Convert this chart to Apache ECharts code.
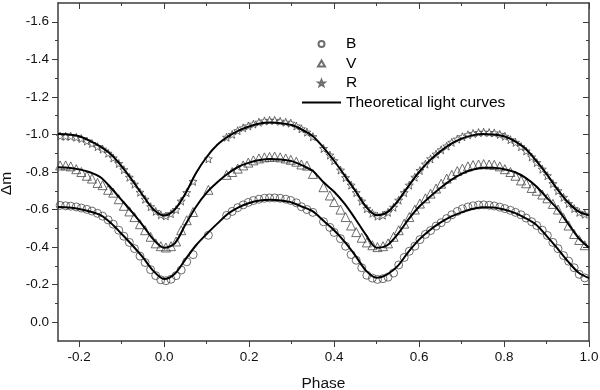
<!DOCTYPE html>
<html><head><meta charset="utf-8">
<script src="https://cdn.jsdelivr.net/npm/echarts@6/dist/echarts.min.js"></script>
<style>html,body{margin:0;padding:0;background:#fff}#c{width:600px;height:390px}</style>
</head><body><div id="c"></div>
<script>
const xMajorTicks = [-0.2, 0.0, 0.2, 0.4, 0.6, 0.8, 1.0];
const xMinorTicks = [-0.1, 0.1, 0.3, 0.5, 0.7, 0.9];
const yMajorTicks = [-1.6, -1.4, -1.2, -1.0, -0.8, -0.6, -0.4, -0.2, 0.0];
const yMinorTicks = [-1.5, -1.3, -1.1, -0.9, -0.7, -0.5, -0.3, -0.1];

const curvePhase = [-0.25,-0.225,-0.2,-0.175,-0.15,-0.125,-0.1,-0.075,-0.05,-0.025,0,0.025,0.05,0.075,0.1,0.125,0.15,0.175,0.2,0.225,0.25,0.275,0.3,0.325,0.35,0.375,0.4,0.425,0.45,0.475,0.5,0.525,0.55,0.575,0.6,0.625,0.65,0.675,0.7,0.725,0.75,0.775,0.8,0.825,0.85,0.875,0.9,0.925,0.95,0.975,1.0];
const curveB = [-0.613,-0.611,-0.603,-0.590,-0.570,-0.527,-0.470,-0.410,-0.345,-0.272,-0.230,-0.258,-0.335,-0.410,-0.470,-0.525,-0.578,-0.612,-0.635,-0.648,-0.652,-0.648,-0.638,-0.615,-0.590,-0.540,-0.490,-0.428,-0.355,-0.275,-0.237,-0.255,-0.300,-0.375,-0.440,-0.490,-0.530,-0.562,-0.585,-0.603,-0.612,-0.611,-0.600,-0.582,-0.555,-0.520,-0.460,-0.395,-0.325,-0.265,-0.235];
const curveV = [-0.825,-0.823,-0.814,-0.799,-0.772,-0.715,-0.650,-0.585,-0.515,-0.440,-0.396,-0.420,-0.520,-0.615,-0.690,-0.745,-0.792,-0.828,-0.850,-0.864,-0.869,-0.866,-0.858,-0.835,-0.805,-0.745,-0.695,-0.630,-0.550,-0.465,-0.397,-0.410,-0.470,-0.548,-0.615,-0.667,-0.715,-0.757,-0.790,-0.812,-0.823,-0.823,-0.815,-0.800,-0.770,-0.725,-0.665,-0.605,-0.528,-0.450,-0.397];
const curveR = [-1.002,-1.000,-0.990,-0.966,-0.935,-0.893,-0.830,-0.755,-0.675,-0.600,-0.568,-0.600,-0.685,-0.795,-0.880,-0.945,-0.988,-1.020,-1.042,-1.058,-1.063,-1.060,-1.050,-1.025,-0.990,-0.930,-0.860,-0.781,-0.700,-0.615,-0.570,-0.585,-0.645,-0.725,-0.800,-0.862,-0.910,-0.950,-0.978,-0.995,-1.002,-1.000,-0.990,-0.965,-0.925,-0.862,-0.790,-0.710,-0.640,-0.590,-0.569];

const obsPhase = [-0.245,-0.232,-0.22,-0.207,-0.195,-0.182,-0.17,-0.157,-0.145,-0.132,-0.12,-0.107,-0.095,-0.082,-0.07,-0.057,-0.045,-0.032,-0.02,-0.008,0.004,0.016,0.028,0.04,
0.053,0.068,0.104,0.147,0.16,0.173,0.186,0.198,0.21,0.223,0.236,0.248,0.26,0.273,0.286,0.298,0.311,0.323,0.336,0.35,
0.375,0.39,0.40,0.415,0.427,0.44,0.452,0.465,0.477,0.49,
0.502,0.515,0.527,0.54,0.552,0.565,0.577,0.59,0.602,0.615,
0.627,0.64,0.652,0.665,0.677,0.69,0.702,0.715,0.727,0.74,
0.752,0.765,0.777,0.79,0.802,0.815,0.827,0.84,0.852,0.865,
0.877,0.89,0.902,0.915,0.927,0.94,0.952,0.965,0.977,0.99];
const obsB = [-0.622,-0.62,-0.618,-0.614,-0.608,-0.601,-0.592,-0.58,-0.565,-0.545,-0.522,-0.49,-0.458,-0.425,-0.392,-0.352,-0.318,-0.28,-0.248,-0.226,-0.221,-0.229,-0.248,-0.278,
-0.322,-0.36,-0.463,-0.569,-0.59,-0.61,-0.625,-0.638,-0.648,-0.655,-0.66,-0.662,-0.662,-0.66,-0.655,-0.648,-0.636,-0.615,-0.600,-0.585,
-0.535,-0.505,-0.478,-0.445,-0.405,-0.36,-0.33,-0.29,-0.25,-0.235,
-0.228,-0.232,-0.24,-0.262,-0.305,-0.345,-0.378,-0.405,-0.44,-0.468,
-0.488,-0.512,-0.53,-0.552,-0.572,-0.59,-0.604,-0.614,-0.62,-0.624,
-0.625,-0.623,-0.619,-0.613,-0.605,-0.596,-0.585,-0.572,-0.555,-0.535,
-0.515,-0.49,-0.462,-0.425,-0.392,-0.355,-0.325,-0.29,-0.255,-0.236];
const obsV = [-0.835,-0.835,-0.83,-0.815,-0.8,-0.78,-0.765,-0.742,-0.73,-0.705,-0.69,-0.655,-0.62,-0.59,-0.56,-0.522,-0.49,-0.455,-0.42,-0.405,-0.398,-0.405,-0.43,-0.49,
-0.543,-0.587,-0.705,-0.785,-0.8,-0.818,-0.835,-0.85,-0.862,-0.872,-0.878,-0.88,-0.882,-0.878,-0.872,-0.865,-0.855,-0.84,-0.834,-0.79,
-0.719,-0.675,-0.64,-0.6,-0.56,-0.515,-0.48,-0.45,-0.425,-0.41,
-0.4,-0.405,-0.42,-0.455,-0.49,-0.525,-0.56,-0.6,-0.632,-0.66,
-0.685,-0.712,-0.738,-0.765,-0.785,-0.805,-0.818,-0.83,-0.837,-0.84,
-0.842,-0.84,-0.838,-0.83,-0.815,-0.8,-0.78,-0.755,-0.74,-0.715,
-0.7,-0.68,-0.66,-0.63,-0.6,-0.555,-0.515,-0.47,-0.438,-0.41];
const obsR = [-0.992,-0.99,-0.99,-0.985,-0.978,-0.965,-0.952,-0.935,-0.922,-0.9,-0.875,-0.845,-0.812,-0.772,-0.735,-0.692,-0.655,-0.615,-0.59,-0.572,-0.566,-0.578,-0.6,-0.645,
-0.69,-0.75,-0.87,-0.985,-1.0,-1.02,-1.035,-1.045,-1.055,-1.065,-1.072,-1.075,-1.075,-1.07,-1.065,-1.06,-1.045,-1.03,-1.012,-0.988,
-0.925,-0.89,-0.86,-0.81,-0.77,-0.73,-0.69,-0.645,-0.605,-0.58,
-0.565,-0.57,-0.585,-0.612,-0.65,-0.69,-0.73,-0.772,-0.808,-0.842,
-0.87,-0.895,-0.918,-0.938,-0.958,-0.975,-0.988,-0.998,-1.005,-1.01,
-1.012,-1.01,-1.008,-1.0,-0.99,-0.972,-0.958,-0.935,-0.912,-0.88,
-0.85,-0.815,-0.78,-0.738,-0.7,-0.665,-0.632,-0.605,-0.585,-0.575];

const FF = "'Liberation Sans', Arial, sans-serif";
const AX = '#3c3c3c';
const SYM = '#4a4a4a';
const STAR = 'path://M50 0 L62.3 33.1 L97.55 34.55 L69.9 56.5 L79.39 90.45 L50 71 L20.61 90.45 L30.1 56.5 L2.45 34.55 L37.7 33.1 Z';
const TRI = 'path://M50 0 L100 86.6 L0 86.6 Z';
const BAR = 'path://M0 0 L40 0 L40 2 L0 2 Z';

const pair = (xs, ys) => xs.map((x, i) => [x, ys[i]]);

function xAx(pos, ticks, len, inside, withLine, withLabel, extra) {
  return Object.assign({
    type: 'value', gridIndex: 0, position: pos, min: -0.25, max: 1.0,
    splitLine: {show: false},
    axisLine: {show: withLine, onZero: false, lineStyle: {color: AX, width: 1.5}},
    axisTick: {show: true, inside: inside, length: len, customValues: ticks, lineStyle: {color: AX, width: 1}},
    axisLabel: {show: withLabel, customValues: ticks, margin: 9, fontSize: 13.5, color: '#111', fontFamily: FF,
      formatter: v => Number(v).toFixed(1)}
  }, extra || {});
}
function yAx(pos, ticks, len, inside, withLine, withLabel, extra) {
  return Object.assign({
    type: 'value', gridIndex: 0, position: pos, min: -1.7, max: 0.1, inverse: true,
    splitLine: {show: false},
    axisLine: {show: withLine, onZero: false, lineStyle: {color: AX, width: 1.5}},
    axisTick: {show: true, inside: inside, length: len, customValues: ticks, lineStyle: {color: AX, width: 1}},
    axisLabel: {show: withLabel, customValues: ticks, margin: 9, fontSize: 13.5, color: '#111', fontFamily: FF,
      formatter: v => Number(v).toFixed(1)}
  }, extra || {});
}

const chart = echarts.init(document.getElementById('c'));
const scatterStyle = {color: 'rgba(255,255,255,0)', borderColor: SYM, borderWidth: 1};
const lineName = 'Theoretical light curves';
const lineSeries = (d) => ({
  name: lineName, type: 'line', data: d, xAxisIndex: 0, yAxisIndex: 0,
  symbol: 'none', smooth: 0.3, z: 5,
  lineStyle: {color: '#000', width: 2}, itemStyle: {color: '#000'}
});
chart.setOption({
  animation: false,
  backgroundColor: '#fff',
  grid: {left: 58, right: 11, top: 3, bottom: 49, containLabel: false, outerBoundsMode: 'none'},
  legend: {
    orient: 'vertical', left: 297, top: 31, itemWidth: 39, itemHeight: 6, itemGap: 3.5,
    symbolKeepAspect: true,
    data: [
      {name: 'B', icon: 'circle'},
      {name: 'V', icon: TRI},
      {name: 'R', icon: STAR},
      {name: lineName, icon: BAR}
    ],
    textStyle: {fontSize: 15.5, color: '#000', fontFamily: FF},
    selectedMode: false
  },
  xAxis: [
    xAx('bottom', xMajorTicks, 6, false, true, true,
      {name: 'Phase', nameLocation: 'middle', nameGap: 35,
       nameTextStyle: {fontSize: 15.5, color: '#111', fontFamily: FF}}),
    xAx('bottom', xMinorTicks, 3, false, false, false),
    xAx('top', xMajorTicks, 6, true, true, false),
    xAx('top', xMinorTicks, 3, true, false, false)
  ],
  yAxis: [
    yAx('left', yMajorTicks, 6, false, true, true,
      {name: 'Δm', nameLocation: 'middle', nameGap: 40,
       nameTextStyle: {fontSize: 15.5, color: '#111', fontFamily: FF, padding: [0, 23, 0, 0]}}),
    yAx('left', yMinorTicks, 3, false, false, false),
    yAx('right', yMajorTicks, 6, true, true, false),
    yAx('right', yMinorTicks, 3, true, false, false)
  ],
  series: [
    {name: 'B', type: 'scatter', data: pair(obsPhase, obsB), symbol: 'circle', symbolSize: 8, itemStyle: scatterStyle, z: 3},
    {name: 'V', type: 'scatter', data: pair(obsPhase, obsV), symbol: 'triangle', symbolSize: 9, itemStyle: scatterStyle, z: 3},
    {name: 'R', type: 'scatter', data: pair(obsPhase, obsR), symbol: STAR, symbolSize: 8, itemStyle: scatterStyle, z: 3},
    lineSeries(pair(curvePhase, curveB)),
    lineSeries(pair(curvePhase, curveV)),
    lineSeries(pair(curvePhase, curveR))
  ]
});
</script></body></html>
